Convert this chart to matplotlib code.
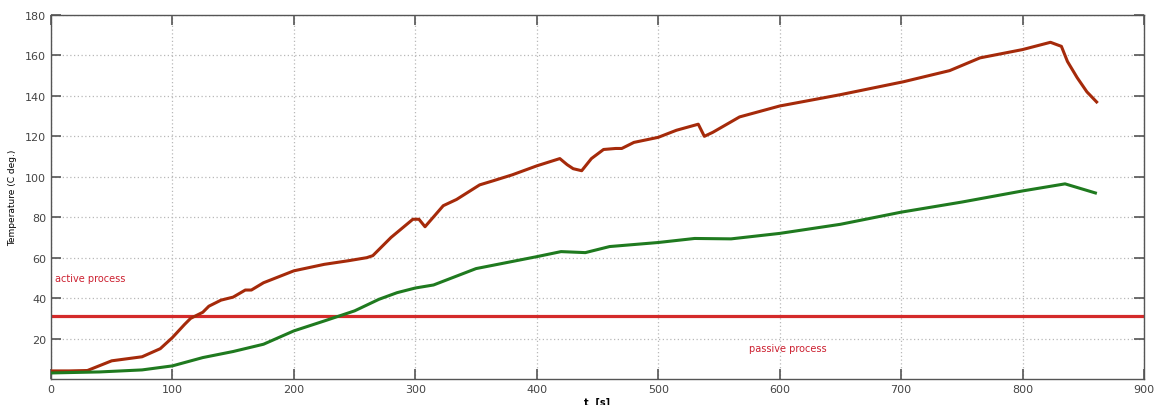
import numpy as np
import matplotlib.pyplot as plt

# time [s] and temperature readings for the two sensors
t_hot = [0, 15, 30, 50, 75, 90, 100, 110, 115, 125, 130, 140, 150, 160, 165, 175,
         200, 225, 245, 260, 265, 270, 280, 298, 303, 308, 323, 334, 353, 364, 380,
         400, 419, 425, 430, 437, 445, 455, 465, 470, 480, 500, 515, 530, 533, 538,
         545, 567, 600, 650, 702, 740, 765, 800, 823, 832, 837, 845, 853, 861]
temp_hot = [4, 4, 4.2, 9, 11, 15, 20.5, 27, 30, 33, 36, 39, 40.5, 44, 44, 47.6,
            53.5, 56.7, 58.5, 60, 61, 64, 70, 79, 79, 75.3, 85.7, 88.8, 96, 98, 101,
            105.4, 109, 106, 104, 103, 109, 113.5, 114, 114, 117, 119.5, 123, 125.5, 126, 120,
            122, 129.6, 135, 140.6, 147, 152.5, 158.8, 162.9, 166.5, 164.5, 157, 149, 142, 137]

t_cold = [0, 40, 75, 100, 125, 150, 175, 200, 225, 250, 270, 285, 300, 315, 350,
          400, 420, 440, 460, 500, 530, 560, 600, 650, 700, 750, 800, 835, 860]
temp_cold = [3, 3.5, 4.5, 6.5, 10.6, 13.6, 17.2, 23.8, 28.7, 33.7, 39.4, 42.7, 45, 46.5, 54.6,
             60.5, 63, 62.5, 65.5, 67.5, 69.5, 69.3, 72, 76.5, 82.5, 87.5, 93, 96.5, 92]

threshold = 31

fig = plt.figure(figsize=(11.56, 4.06), dpi=100)
ax = fig.add_axes([0.0441, 0.064, 0.9455, 0.8966])

ax.axhline(threshold, color='#d42a2a', lw=2.3, zorder=2)
ax.plot(t_hot, temp_hot, color='#a52a0a', lw=2.2, zorder=3)
ax.plot(t_cold, temp_cold, color='#1f7a1f', lw=2.2, zorder=3)

ax.text(3, 50, 'active process', color='#cc2030', fontsize=7, va='center')
ax.text(575, 15.5, 'passive process', color='#cc2030', fontsize=7, va='center')

ax.set_xlim(0, 900)
ax.set_ylim(0, 180)
ax.set_xticks(np.arange(0, 901, 100))
ax.set_yticks(np.arange(20, 181, 20))
ax.grid(True, color='#b8b8b8', linestyle=(0, (1, 2)), lw=0.9)
ax.tick_params(direction='in', length=7, width=1.2, color='#555555',
               labelcolor='#444444', labelsize=8, top=True, right=True)
for s in ax.spines.values():
    s.set_color('#555555')
    s.set_linewidth(1.0)

ax.set_xlabel('t  [s]', fontsize=7, fontweight='bold', labelpad=2)
ax.set_ylabel('Temperature (C deg.)', fontsize=6.5, labelpad=6)

fig.savefig('out.png', dpi=100)
